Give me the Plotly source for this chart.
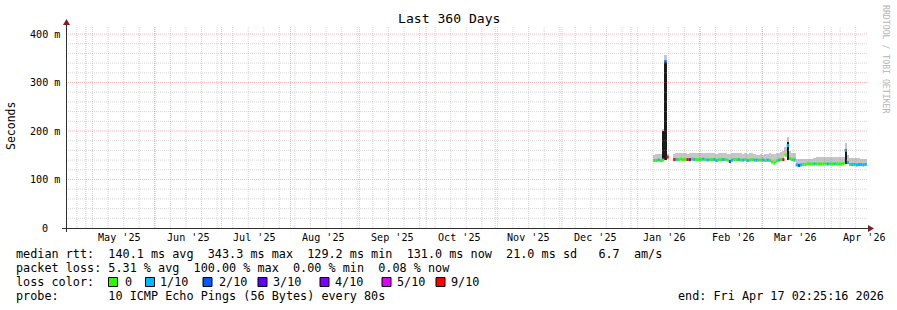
import plotly.graph_objects as go
import pandas as pd

# ---------------- data ----------------
FIRST_DAY = "2026-01-11"          # first day with measurements (daily consolidation)
median_ms = [
    139, 139, 140, 139, 140, 343, 146, None, None, 141,          # Jan 11-20
    141, 141, 142, 141, 141, 141, 141, 142, 141, 141, 141,       # Jan 21-31
    141, 142, 141, 140, 141, 141, 141, 139, 141, 141,            # Feb 1-10
    141, 141, 140, 137, 140, 141, 141, 141, 140, 140,            # Feb 11-20
    141, 139, 140, 141, 140, 140, 140, 140,                      # Feb 21-28
    140, 139, 140, 139, 136, 134, 138, 140, 141, 141,            # Mar 1-10
    150, 170, 143, 141, 140, 130, 129, 130, 131, 131,            # Mar 11-20
    132, 132, 132, 132, 132, 132, 132, 132, 132, 132, 132,       # Mar 21-31
    132, 132, 132, 132, 132, 133, 160, 135, 131, 131,            # Apr 1-10
    131, 130, 131, 131, 130, 131,                                # Apr 11-16
]
smoke_top_ms = [
    151, 152, 152, 152, 205, 357, 153, None, None, 153,
    154, 154, 155, 154, 154, 153, 154, 155, 155, 154, 154,
    155, 155, 154, 154, 155, 154, 154, 153, 155, 155,
    154, 154, 153, 153, 154, 155, 155, 154, 154, 153,
    154, 153, 154, 154, 152, 151, 151, 152,
    151, 152, 153, 154, 153, 152, 154, 155, 156, 158,
    168, 188, 158, 155, 154, 143, 142, 142, 142, 142,
    142, 143, 143, 144, 146, 147, 147, 147, 146, 146, 147,
    147, 146, 146, 146, 147, 147, 176, 150, 145, 144,
    144, 145, 144, 143, 143, 142,
]
# index into loss_labels for every day
loss_class = [
    0, 0, 1, 0, 0, 2, 6, 0, 0, 6,
    1, 0, 0, 0, 0, 6, 3, 0, 1, 0, 0,
    0, 1, 0, 1, 0, 0, 1, 1, 0, 0,
    1, 0, 0, 2, 1, 0, 0, 1, 0, 1,
    0, 1, 0, 0, 1, 1, 0, 0,
    1, 0, 1, 0, 0, 0, 0, 1, 0, 6,
    0, 1, 0, 0, 1, 1, 2, 1, 0, 0,
    0, 0, 0, 1, 0, 0, 0, 0, 0, 1, 0,
    0, 1, 0, 0, 0, 0, 1, 1, 0, 1,
    1, 1, 1, 1, 1, 1,
]
spike_days = ["2026-01-15", "2026-01-16", "2026-03-12", "2026-04-07"]
spike_low_ms = [141, 141, 141, 133]
spike_high_ms = [200, 343, 178, 162]

loss_labels = ["0", "1/10", "2/10", "3/10", "4/10", "5/10", "9/10"]
loss_colors = ["#26ff00", "#00b8ff", "#0059ff", "#5e00ff", "#7e00ff", "#dd00ff", "#ff0000"]

month_labels = ["May '25", "Jun '25", "Jul '25", "Aug '25", "Sep '25", "Oct '25",
                "Nov '25", "Dec '25", "Jan '26", "Feb '26", "Mar '26", "Apr '26"]
month_starts = ["2025-05-01", "2025-06-01", "2025-07-01", "2025-08-01", "2025-09-01", "2025-10-01",
                "2025-11-01", "2025-12-01", "2026-01-01", "2026-02-01", "2026-03-01", "2026-04-01"]
y_tick_vals = [0, 100, 200, 300, 400]
y_tick_text = ["0", "100 m", "200 m", "300 m", "400 m"]

title_text = "Last 360 Days"
y_title = "Seconds"
line_rtt = "median rtt:  140.1 ms avg  343.3 ms max  129.2 ms min  131.0 ms now  21.0 ms sd   6.7  am/s"
line_loss = "packet loss: 5.31 % avg  100.00 % max  0.00 % min  0.08 % now"
line_color_head = "loss color:"
line_probe = "probe:       10 ICMP Echo Pings (56 Bytes) every 80s"
line_end = "end: Fri Apr 17 02:25:16 2026"
watermark = "RRDTOOL / TOBI OETIKER"

X_START = pd.Timestamp("2025-04-22 02:25:16")
X_END = pd.Timestamp("2026-04-17 02:25:16")

# ---------------- layout helpers ----------------
W, H = 897, 310
L, R, T, B = 66, 30, 26, 82
PW, PH = W - L - R, H - T - B
Y_MAX = 416.5
MONO = "DejaVu Sans Mono"


def px(x):
    return (x - L) / PW


def py(y):
    return (T + PH - y) / PH


def nb(s):
    return s.replace(" ", "\u00a0")


DAY = pd.Timedelta(days=1)
DAY_MS = 86400000
days = pd.date_range(FIRST_DAY, periods=len(median_ms), freq="D")

fig = go.Figure()

# smoke (light grey band above the median)
sx, sb, sh = [], [], []
for d, m, t in zip(days, median_ms, smoke_top_ms):
    if m is None or t is None:
        continue
    sx.append(d)
    sb.append(m)
    sh.append(t - m)
fig.add_trace(go.Bar(x=sx, y=sh, base=sb, width=DAY_MS, offset=0,
                     marker=dict(color="#c6c6c6", line=dict(width=0)),
                     hoverinfo="skip", showlegend=False))

# dark smoke on spikes
fig.add_trace(go.Bar(x=pd.to_datetime(spike_days), y=[h - l for l, h in zip(spike_low_ms, spike_high_ms)],
                     base=spike_low_ms, width=DAY_MS, offset=0,
                     marker=dict(color="#1a1a1a", line=dict(width=0)),
                     hoverinfo="skip", showlegend=False))

# median, coloured by packet loss
for k, col in enumerate(loss_colors):
    xs, ys = [], []
    for d, m, c in zip(days, median_ms, loss_class):
        if m is None or c != k:
            continue
        xs += [d, d + DAY, None]
        ys += [m, m, None]
    if xs:
        fig.add_trace(go.Scatter(x=xs, y=ys, mode="lines", line=dict(color=col, width=3),
                                 hoverinfo="skip", showlegend=False, connectgaps=False))

shapes = []
minor_col = "rgba(150,150,150,0.40)"
major_col = "rgba(255,70,70,0.40)"
dot = "1px,1px"

# horizontal grid
for v in range(20, 420, 20):
    if v > Y_MAX:
        break
    col = major_col if v % 100 == 0 else minor_col
    shapes.append(dict(type="line", xref="paper", yref="y", x0=0, x1=1, y0=v, y1=v,
                       line=dict(color=col, width=1, dash=dot), layer="above"))
# weekly minor grid
for d in pd.date_range("2025-04-27", X_END, freq="7D"):
    shapes.append(dict(type="line", xref="x", yref="paper", x0=d, x1=d, y0=0, y1=1,
                       line=dict(color=minor_col, width=1, dash=dot), layer="above"))
# monthly major grid
for d in pd.to_datetime(month_starts):
    shapes.append(dict(type="line", xref="x", yref="paper", x0=d, x1=d, y0=0, y1=1,
                       line=dict(color=major_col, width=1, dash=dot), layer="above"))

axis_col = "#303030"
arrow_col = "#7f1f1f"
# axes
shapes.append(dict(type="line", xref="paper", yref="paper", x0=px(62), x1=px(869), y0=py(228.5), y1=py(228.5),
                   line=dict(color=axis_col, width=1), layer="above"))
shapes.append(dict(type="line", xref="paper", yref="paper", x0=px(66.5), x1=px(66.5), y0=py(232), y1=py(22),
                   line=dict(color=axis_col, width=1), layer="above"))
# arrows
shapes.append(dict(type="path", xref="paper", yref="paper",
                   path=f"M {px(868)} {py(225)} L {px(874)} {py(228.5)} L {px(868)} {py(232)} Z",
                   fillcolor=arrow_col, line=dict(width=0), layer="above"))
shapes.append(dict(type="path", xref="paper", yref="paper",
                   path=f"M {px(63)} {py(25)} L {px(66.5)} {py(19)} L {px(70)} {py(25)} Z",
                   fillcolor=arrow_col, line=dict(width=0), layer="above"))

annotations = []


def ann(**kw):
    kw.setdefault("showarrow", False)
    kw.setdefault("borderpad", 0)
    kw.setdefault("borderwidth", 0)
    annotations.append(kw)


# x tick labels at mid-month
for lab, ms in zip(month_labels, pd.to_datetime(month_starts)):
    ann(x=ms + pd.Timedelta(days=15), y=py(237.5), xref="x", yref="paper",
        text=nb(lab), xanchor="center", yanchor="middle",
        font=dict(family=MONO, size=10.1, color="#000"))
# y tick labels
for v, lab in zip(y_tick_vals, y_tick_text):
    xr = 59.5 if v else 47.5
    ann(x=px(xr), y=v, xref="paper", yref="y", text=nb(lab),
        xanchor="right", yanchor="middle",
        font=dict(family=MONO, size=10.1, color="#000"))
# title, y title, watermark
ann(x=px(448.5), y=py(19), xref="paper", yref="paper", text=nb(title_text),
    xanchor="center", yanchor="middle", font=dict(family=MONO, size=13.1, color="#000"))
ann(x=px(11), y=py(126), xref="paper", yref="paper", text=nb(y_title),
    xanchor="center", yanchor="middle", textangle=-90,
    font=dict(family=MONO, size=11.5, color="#000"))
ann(x=px(886), y=py(59), xref="paper", yref="paper", text=nb(watermark),
    xanchor="center", yanchor="middle", textangle=90,
    font=dict(family=MONO, size=8.2, color="#b4b4b4"))
# legend text
LEG = 11.8
for txt, yy in [(line_rtt, 254), (line_loss, 268), (line_color_head, 282), (line_probe, 296)]:
    ann(x=px(16), y=py(yy), xref="paper", yref="paper", text=nb(txt),
        xanchor="left", yanchor="middle", font=dict(family=MONO, size=LEG, color="#000"))
ann(x=px(678.3), y=py(296), xref="paper", yref="paper", text=nb(line_end),
    xanchor="left", yanchor="middle", font=dict(family=MONO, size=LEG, color="#000"))
# loss colour legend boxes
box_x = [108.5, 145.5, 203, 258, 320, 382, 436]
label_x = [125, 160, 218.5, 273, 335, 397, 450.5]
for lab, col, bx, lx in zip(loss_labels, loss_colors, box_x, label_x):
    shapes.append(dict(type="rect", xref="paper", yref="paper", x0=px(bx), x1=px(bx + 9),
                       y0=py(286.5), y1=py(277.5), fillcolor=col, line=dict(color="#000", width=1),
                       layer="above"))
    ann(x=px(lx), y=py(282), xref="paper", yref="paper", text=nb(lab),
        xanchor="left", yanchor="middle", font=dict(family=MONO, size=LEG, color="#000"))

fig.update_layout(
    width=W, height=H, margin=dict(l=L, r=R, t=T, b=B, pad=0),
    paper_bgcolor="#ffffff", plot_bgcolor="#ffffff",
    barmode="overlay", bargap=0, showlegend=False,
    xaxis=dict(type="date", range=[X_START, X_END], showgrid=False, zeroline=False,
               showticklabels=False, ticks="", showline=False, fixedrange=True),
    yaxis=dict(range=[0, Y_MAX], showgrid=False, zeroline=False, showticklabels=False,
               ticks="", showline=False, fixedrange=True),
    shapes=shapes, annotations=annotations,
)
fig.write_html("out.html", config={"displayModeBar": False, "staticPlot": True})
